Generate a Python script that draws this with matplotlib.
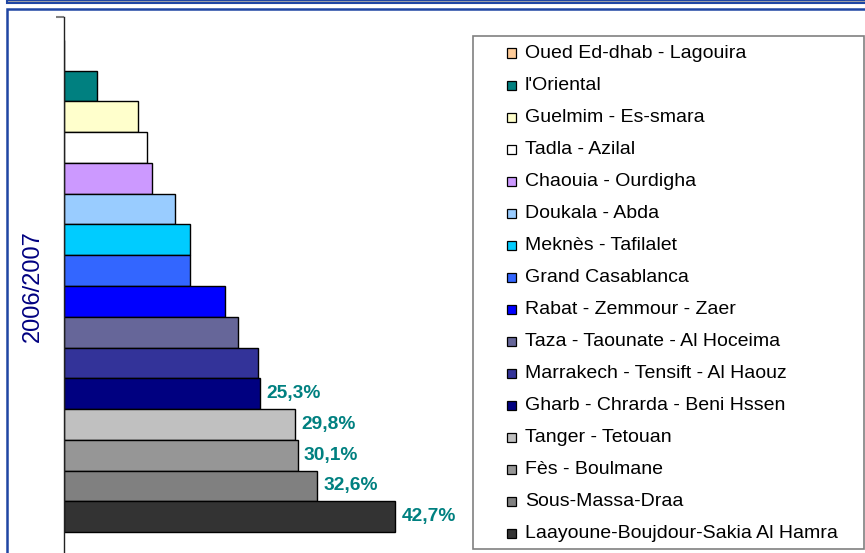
"""Horizontal bar chart of regional rates, 2006/2007."""

import matplotlib

matplotlib.use("Agg")

import matplotlib.pyplot as plt  # noqa: E402
from matplotlib.patches import Rectangle  # noqa: E402

plt.rcParams["font.family"] = ["Liberation Sans", "DejaVu Sans"]

# Series, top of the chart to bottom (same order as the legend)
regions = [
    "Oued Ed-dhab - Lagouira",
    "l'Oriental",
    "Guelmim - Es-smara",
    "Tadla - Azilal",
    "Chaouia - Ourdigha",
    "Doukala - Abda",
    "Meknès - Tafilalet",
    "Grand Casablanca",
    "Rabat - Zemmour - Zaer",
    "Taza - Taounate - Al Hoceima",
    "Marrakech - Tensift - Al Haouz",
    "Gharb - Chrarda - Beni Hssen",
    "Tanger - Tetouan",
    "Fès - Boulmane",
    "Sous-Massa-Draa",
    "Laayoune-Boujdour-Sakia Al Hamra",
]
values = [0.0, 4.3, 9.6, 10.7, 11.3, 14.3, 16.2, 16.2,
          20.8, 22.4, 25.0, 25.3, 29.8, 30.1, 32.6, 42.7]
colors = ["#FFCC99", "#008080", "#FFFFCC", "#FFFFFF", "#CC99FF", "#99CCFF",
          "#00CCFF", "#3366FF", "#0000FF", "#666699", "#333399", "#000080",
          "#C0C0C0", "#969696", "#808080", "#333333"]
labeled = ["Gharb - Chrarda - Beni Hssen", "Tanger - Tetouan", "Fès - Boulmane",
           "Sous-Massa-Draa", "Laayoune-Boujdour-Sakia Al Hamra"]
category = "2006/2007"

W, H = 865, 553
fig = plt.figure(figsize=(W / 100, H / 100), dpi=100)


def fx(x):
    return x / W


def fy(y):
    return 1 - y / H


# outer frame (blue borders like the source sheet), kept behind the axes
frame_blue = "#1F45A3"
fig.patches.append(Rectangle((fx(7), fy(3)), 1, 3 / H, transform=fig.transFigure,
                             facecolor="#A6A6A6", edgecolor=frame_blue, lw=1.5,
                             zorder=-2))
fig.patches.append(Rectangle((fx(7), fy(600)), 1, (600 - 9) / H, transform=fig.transFigure,
                             facecolor="white", edgecolor=frame_blue, lw=1.8,
                             zorder=-2))

ax = fig.add_axes([fx(64), fy(555), 388 / W, 538 / H])
ax.set_xlim(0, 50)
ax.set_ylim(-0.5, 0.5)
ax.patch.set_alpha(0)

n = len(regions)
h = 0.915 / n
for i, (name, val, col) in enumerate(zip(regions, values, colors)):
    yc = (n / 2 - 0.5 - i) * h
    ax.barh(yc, val, height=h, color=col, edgecolor="black", linewidth=1.0)
    if name in labeled:
        ax.annotate(f"{val:.1f}%".replace(".", ","), (val, yc),
                    xytext=(4.5, 0), textcoords="offset points",
                    ha="left", va="center", fontsize=13.8, fontweight="bold",
                    color="#008080")

for side in ["top", "right", "bottom"]:
    ax.spines[side].set_visible(False)
ax.spines["left"].set_color("#222222")
ax.spines["left"].set_linewidth(1.0)
ax.set_xticks([])
ax.set_yticks([-0.5, 0.5])
ax.set_yticklabels([])
ax.tick_params(axis="y", direction="out", length=5.5, width=1.5, color="#808080")
ax.text(-31 / 388, 0, category, transform=ax.get_yaxis_transform(), rotation=90,
        ha="center", va="center", fontsize=17, color="#000080")

# legend box
fig.patches.append(Rectangle((fx(473), fy(549)), (864 - 473) / W, (549 - 36) / H,
                             transform=fig.transFigure, facecolor="white",
                             edgecolor="#808080", lw=1.2))
for i, (name, col) in enumerate(zip(regions, colors)):
    yy = 53 + 32.05 * i
    fig.patches.append(Rectangle((fx(507), fy(yy + 4.5)), 9 / W, 9 / H,
                                 transform=fig.transFigure, facecolor=col,
                                 edgecolor="black", lw=0.9))
    fig.text(fx(525), fy(yy), name, ha="left", va="center", fontsize=14)

fig.savefig("out.png", dpi=100)
plt.close(fig)
